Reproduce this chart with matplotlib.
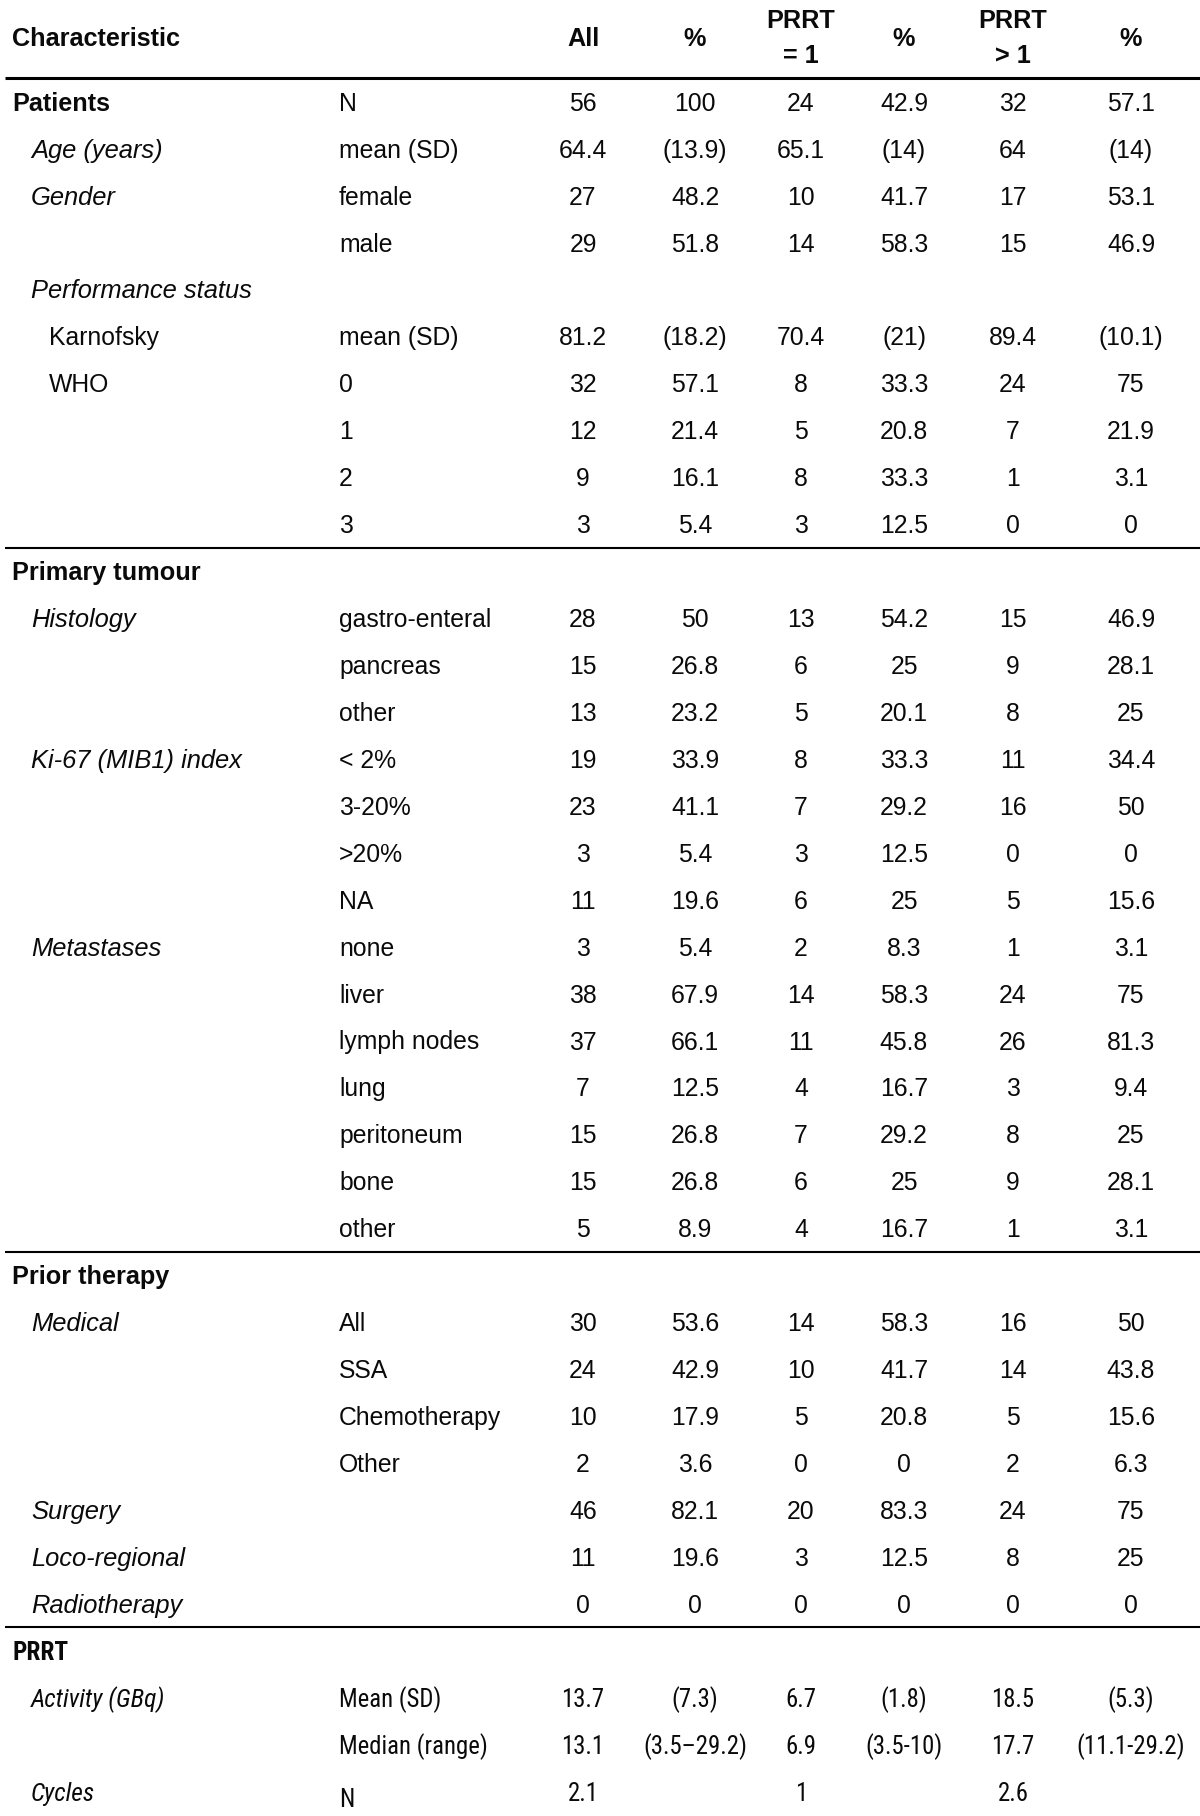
import matplotlib
matplotlib.use("Agg")
import matplotlib.pyplot as plt
from matplotlib import font_manager

# ---------------- data ----------------
headers = ["Characteristic", "", "All", "%", "PRRT\n= 1", "%", "PRRT\n> 1", "%"]

labels = ["Patients", "Age (years)", "Gender", "", "Performance status", "Karnofsky", "WHO", "", "", "",
          "Primary tumour", "Histology", "", "", "Ki-67 (MIB1) index", "", "", "", "Metastases", "", "", "", "", "", "",
          "Prior therapy", "Medical", "", "", "", "Surgery", "Loco-regional", "Radiotherapy",
          "PRRT", "Activity (GBq)", "", "Cycles"]
label_levels = [0, 1, 1, 1, 1, 2, 2, 2, 2, 2,
                0, 1, 1, 1, 1, 1, 1, 1, 1, 1, 1, 1, 1, 1, 1,
                0, 1, 1, 1, 1, 1, 1, 1,
                0, 1, 1, 1]
sublabels = ["N", "mean (SD)", "female", "male", "", "mean (SD)", "0", "1", "2", "3",
             "", "gastro-enteral", "pancreas", "other", "< 2%", "3-20%", ">20%", "NA", "none", "liver",
             "lymph nodes", "lung", "peritoneum", "bone", "other",
             "", "All", "SSA", "Chemotherapy", "Other", "", "", "",
             "", "Mean (SD)", "Median (range)", "N"]
all_n = ["56", "64.4", "27", "29", "", "81.2", "32", "12", "9", "3",
         "", "28", "15", "13", "19", "23", "3", "11", "3", "38", "37", "7", "15", "15", "5",
         "", "30", "24", "10", "2", "46", "11", "0",
         "", "13.7", "13.1", "2.1"]
all_pct = ["100", "(13.9)", "48.2", "51.8", "", "(18.2)", "57.1", "21.4", "16.1", "5.4",
           "", "50", "26.8", "23.2", "33.9", "41.1", "5.4", "19.6", "5.4", "67.9", "66.1", "12.5", "26.8", "26.8", "8.9",
           "", "53.6", "42.9", "17.9", "3.6", "82.1", "19.6", "0",
           "", "(7.3)", "(3.5\u201329.2)", ""]
prrt1_n = ["24", "65.1", "10", "14", "", "70.4", "8", "5", "8", "3",
           "", "13", "6", "5", "8", "7", "3", "6", "2", "14", "11", "4", "7", "6", "4",
           "", "14", "10", "5", "0", "20", "3", "0",
           "", "6.7", "6.9", "1"]
prrt1_pct = ["42.9", "(14)", "41.7", "58.3", "", "(21)", "33.3", "20.8", "33.3", "12.5",
             "", "54.2", "25", "20.1", "33.3", "29.2", "12.5", "25", "8.3", "58.3", "45.8", "16.7", "29.2", "25", "16.7",
             "", "58.3", "41.7", "20.8", "0", "83.3", "12.5", "0",
             "", "(1.8)", "(3.5-10)", ""]
prrtg1_n = ["32", "64", "17", "15", "", "89.4", "24", "7", "1", "0",
            "", "15", "9", "8", "11", "16", "0", "5", "1", "24", "26", "3", "8", "9", "1",
            "", "16", "14", "5", "2", "24", "8", "0",
            "", "18.5", "17.7", "2.6"]
prrtg1_pct = ["57.1", "(14)", "53.1", "46.9", "", "(10.1)", "75", "21.9", "3.1", "0",
              "", "46.9", "28.1", "25", "34.4", "50", "0", "15.6", "3.1", "75", "81.3", "9.4", "25", "28.1", "3.1",
              "", "50", "43.8", "15.6", "6.3", "75", "25", "0",
              "", "(5.3)", "(11.1-29.2)", ""]
condensed_rows = [33, 34, 35, 36]

value_cols = [all_n, all_pct, prrt1_n, prrt1_pct, prrtg1_n, prrtg1_pct]
n = len(labels)
for c in [label_levels, sublabels] + value_cols:
    assert len(c) == n

# ---------------- layout ----------------
W, H = 1200, 1816
fig = plt.figure(figsize=(W / 100, H / 100), dpi=100)
ax = fig.add_axes([0, 0, 1, 1])
ax.set_xlim(0, W)
ax.set_ylim(H, 0)
ax.axis("off")

avail = {f.name for f in font_manager.fontManager.ttflist}
base = "Liberation Sans" if "Liberation Sans" in avail else "DejaVu Sans"
narrow = base
for cand in ["Liberation Sans Narrow", "Roboto Condensed", "Open Sans Condensed", "DejaVu Sans Condensed"]:
    if cand in avail:
        narrow = cand
        break
fs = 17.8
fs_bold = 18.2
fs_ital = 18.4
col = "#0a0a0a"

row0, step = 101.9, 46.94
level_x = [12, 31, 49]
sub_x = 339
val_x = [583, 695, 801, 904, 1013, 1131]
base_off = 8.8

def ry(i):
    return row0 + step * i

# header
ax.text(level_x[0], 37 + base_off, headers[0], ha="left", va="baseline",
        fontsize=fs_bold, fontweight="bold", family=base, color=col)
for j, h in enumerate(headers[2:]):
    parts = h.split("\n")
    if len(parts) == 1:
        ax.text(val_x[j], 37 + base_off, parts[0], ha="center", va="baseline",
                fontsize=fs_bold, fontweight="bold", family=base, color=col)
    else:
        ax.text(val_x[j], 19 + base_off, parts[0], ha="center", va="baseline",
                fontsize=fs_bold, fontweight="bold", family=base, color=col)
        ax.text(val_x[j], 54 + base_off, parts[1], ha="center", va="baseline",
                fontsize=fs_bold, fontweight="bold", family=base, color=col)

ax.plot([5, W], [78, 78], color="black", lw=2.2, solid_capstyle="butt")

for i in range(n):
    y = ry(i) + base_off
    fam = narrow if i in condensed_rows else base
    lv = label_levels[i]
    if labels[i]:
        if lv == 0:
            st, wt, size = "normal", "bold", fs_bold
            if i > 0:
                ly = ry(i) - step / 2
                ax.plot([5, W], [ly, ly], color="black", lw=1.5, solid_capstyle="butt")
        elif lv == 1:
            st, wt, size = "italic", "normal", fs_ital
        else:
            st, wt, size = "normal", "normal", fs
        ax.text(level_x[lv], y, labels[i], ha="left", va="baseline", fontsize=size,
                fontstyle=st, fontweight=wt, family=fam, color=col)
    if sublabels[i]:
        dy = 6 if (i == n - 1) else 0
        ax.text(sub_x, y + dy, sublabels[i], ha="left", va="baseline", fontsize=fs,
                family=fam, color=col)
    for j, c in enumerate(value_cols):
        if c[i]:
            ax.text(val_x[j], y, c[i], ha="center", va="baseline", fontsize=fs,
                    family=fam, color=col)

fig.savefig("out.png", dpi=100, facecolor="white")
